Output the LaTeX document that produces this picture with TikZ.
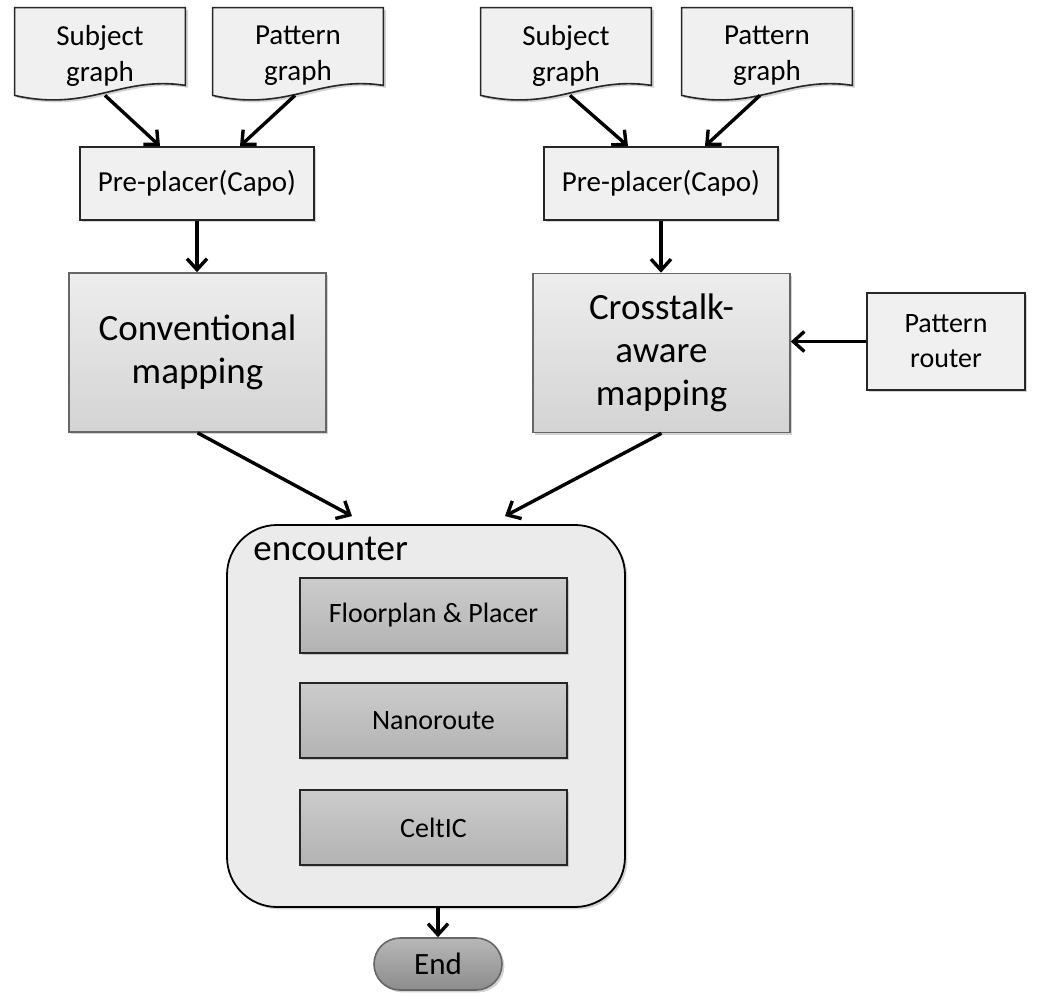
\documentclass[tikz,border=0pt]{standalone}
\usepackage{fontspec}
\setmainfont{Carlito}
\usetikzlibrary{arrows.meta,calc,shadows,backgrounds}
\begin{document}
\begin{tikzpicture}[x=0.5pt, y=-0.5pt,
  softshadow/.style={drop shadow={shadow xshift=1.2pt, shadow yshift=-1.2pt, opacity=0.35}},
  doc/.style={minimum width=85pt, minimum height=47pt, align=center, font=\fontsize{14.5}{18}\selectfont},
  prebox/.style={shape=rectangle, draw=black!85, line width=0.8pt, fill=black!6, align=center, font=\fontsize{14.5}{18}\selectfont, minimum width=117pt, minimum height=36.5pt, softshadow},
  mapbox/.style={shape=rectangle, draw=black!60, line width=0.8pt, top color=black!7, bottom color=black!17, align=center, font=\fontsize{18.5}{21.5}\selectfont, minimum width=128.5pt, minimum height=79.5pt, softshadow},
  toolbox/.style={shape=rectangle, draw=black!85, line width=0.8pt, top color=black!20, bottom color=black!30, font=\fontsize{14}{17}\selectfont, minimum width=133.5pt, minimum height=37.5pt, softshadow},
  endbox/.style={shape=rectangle, rounded corners=13pt, draw=black!60, line width=0.8pt, top color=black!28, bottom color=black!45, font=\fontsize{15.5}{18}\selectfont, minimum width=64pt, minimum height=26pt, softshadow},
  flow/.style={-{Straight Barb[length=5.5pt,width=10pt]}, line width=1.7pt, draw=black}]
\useasboundingbox (0,0) rectangle (1057,997);
\node[doc] (S1) at (100,56) {Subject\\graph};
\node[doc] (P1) at (298,56) {Pattern\\graph};
\node[doc] (S2) at (566,56) {Subject\\graph};
\node[doc] (P2) at (767,56) {Pattern\\graph};
\begin{scope}[on background layer]
\foreach \n in {S1,P1,S2,P2}
  \draw[line width=0.8pt, draw=black!85, fill=black!6, softshadow] ($(\n.north west)+(0,-1)$) -- ($(\n.north east)+(0,-1)$) -- ($(\n.south east)+(0,-18)$) .. controls +(-65,-10) and +(75,17) .. ($(\n.south west)+(0,-8)$) -- cycle;
\end{scope}
\node[prebox] (C1) at (197,183.5) {Pre-placer(Capo)};
\node[prebox] (C2) at (661,183.5) {Pre-placer(Capo)};
\node[mapbox] (M1) at (197.5,352.5) {Conventional\\mapping};
\node[mapbox] (M2) at (661.5,353) {Crosstalk-\\aware\\mapping};
\node[prebox, minimum width=79pt, minimum height=48.5pt, font=\fontsize{14}{17.5}\selectfont] (R) at (946,341.5) {Pattern\\router};
\node[shape=rectangle, rounded corners=25pt, draw=black, line width=0.9pt, fill=black!8, minimum width=199pt, minimum height=191pt, softshadow] (E) at (426,716) {};
\node[anchor=base west, inner sep=0pt, font=\fontsize{18.5}{21.5}\selectfont] (EL) at (253,560) {encounter};
\node[toolbox] (T1) at (433.5,615.5) {Floorplan \& Placer};
\node[toolbox] (T2) at (433.5,720.5) {Nanoroute};
\node[toolbox] (T3) at (433.5,827.5) {CeltIC};
\node[endbox] (X) at (438,964) {End};
\draw[flow] ($(S1.south)+(5,-8)$) -- ($(C1.north)+(-37,0)$);
\draw[flow] ($(P1.south)+(-3,-8)$) -- ($(C1.north)+(43,0)$);
\draw[flow] ($(S2.south)+(4,-8)$) -- ($(C2.north)+(-33,0)$);
\draw[flow] ($(P2.south)+(-7,-8)$) -- ($(C2.north)+(44,0)$);
\draw[flow] (C1.south) -- (C1.south |- M1.north);
\draw[flow] (C2.south) -- (C2.south |- M2.north);
\draw[flow] (R.west) -- (R.west -| M2.east);
\draw[flow] (M1.south) -- ($(E.north)+(-74,-8)$);
\draw[flow] (M2.south) -- ($(E.north)+(79,-8)$);
\draw[flow] (X.north |- E.south) -- (X.north);
\end{tikzpicture}
\end{document}
